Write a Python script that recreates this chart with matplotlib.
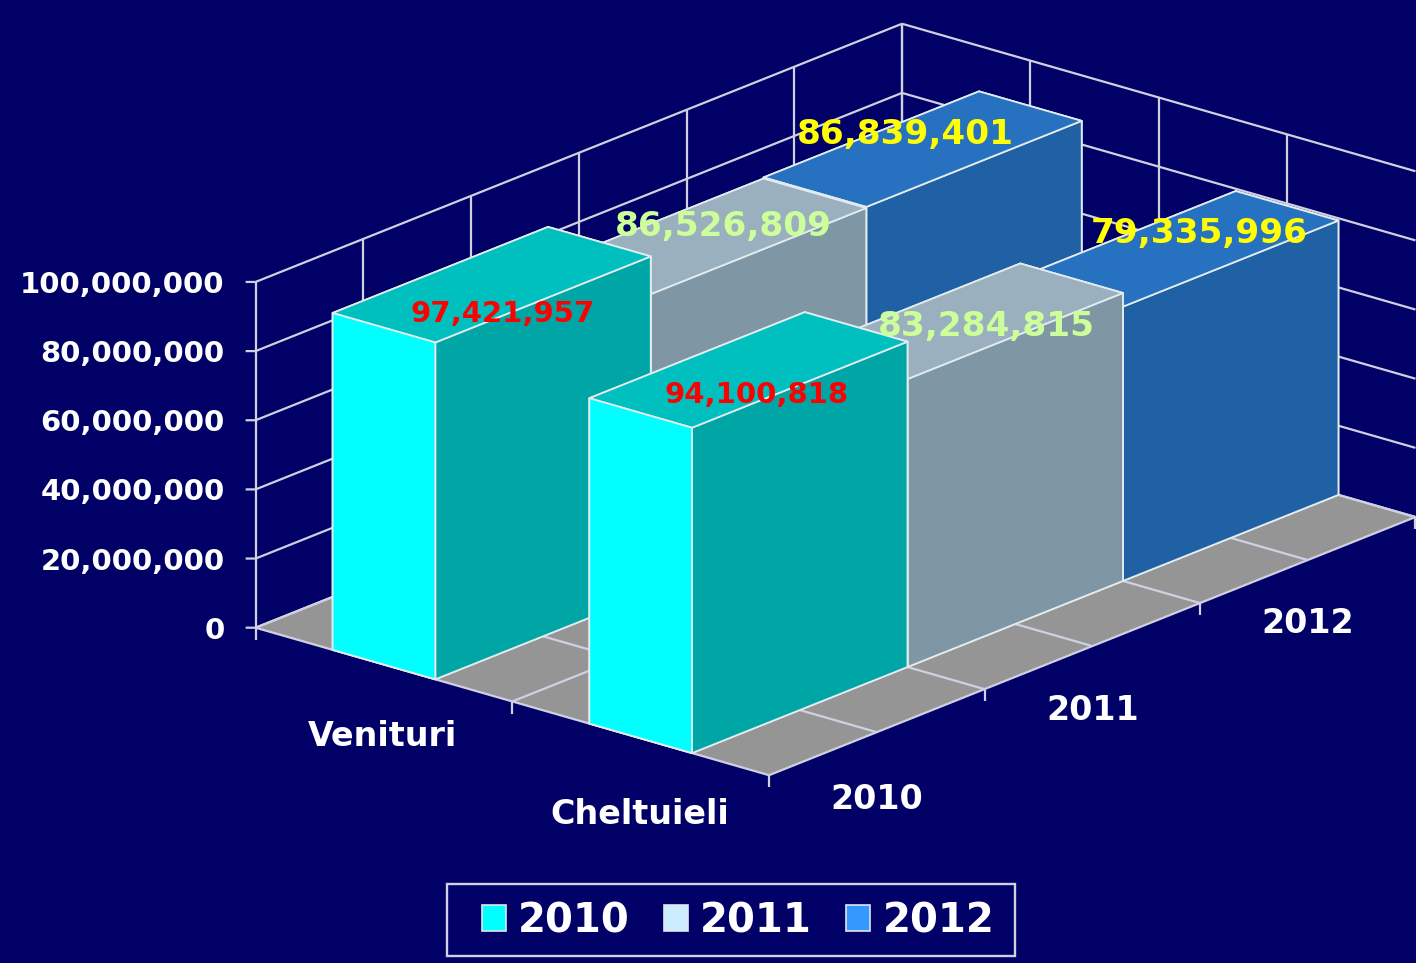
import matplotlib
matplotlib.use("Agg")
import matplotlib.pyplot as plt
from matplotlib.patches import Patch, Rectangle
from mpl_toolkits.mplot3d import proj3d
from mpl_toolkits.mplot3d.art3d import Poly3DCollection

categories = ["Venituri", "Cheltuieli"]
years = ["2010", "2011", "2012"]
venituri = [97421957, 86526809, 86839401]
cheltuieli = [94100818, 83284815, 79335996]
z_ticks = [0, 20000000, 40000000, 60000000, 80000000, 100000000]

BG = "#000066"
LINE = "#D0D0E2"
EDGE = "#E2ECEE"
# faces of a bar: bottom, top, front, back, left, right
face_colors = [
    ["#00A5A5", "#00BFBF", "#00FFFF", "#00A5A5", "#00A5A5", "#00A5A5"],
    ["#7F96A5", "#9BB0BF", "#C6E3F5", "#7F96A5", "#7F96A5", "#7F96A5"],
    ["#2060A5", "#2672C0", "#3399FF", "#2060A5", "#2060A5", "#2060A5"],
]
label_colors = ["#FF0000", "#CCFF99", "#FFFF00"]
label_sizes = [21, 24.7, 24.7]
legend_colors = ["#00FFFF", "#CCECFF", "#3399FF"]
# hand placed in the original, pixel offset from the centre of each bar top
label_offsets = [[(11, -29), (16, 10), (-17, 15)], [(8, -25), (22, -5), (20, 15)]]

plt.rcParams["font.family"] = ["DejaVu Sans"]
plt.rcParams["font.weight"] = "bold"

fig = plt.figure(figsize=(14.16, 9.63), dpi=100, facecolor=BG)
# square axes, sized so one box unit comes out at the pixel scale of the original
ax = fig.add_axes([207.5 / 1416, -64.5 / 963, 1223 / 1416, 1223 / 963], projection="3d", proj_type="ortho")
ax.set_facecolor("none")
ax.computed_zorder = False
ax.set_axis_off()
ax.view_init(elev=19.8, azim=-49.7)
ax.set_box_aspect((673.6, 1000, 367.7))

nx = len(categories)
ny = len(years)
zmax = z_ticks[-1]
ax.set_xlim(0, nx)
ax.set_ylim(0, ny)
ax.set_zlim(0, zmax)

# floor
floor = Poly3DCollection([[(0, 0, 0), (nx, 0, 0), (nx, ny, 0), (0, ny, 0)]], facecolor="#959595", edgecolor="none", zorder=1)
ax.add_collection3d(floor)


def grid(xs, ys, zs, lw=1.6):
    ax.plot(xs, ys, zs, color=LINE, lw=lw, zorder=2, solid_capstyle="butt")


# walls and floor grid, every half unit
for i in range(nx * 2 + 1):
    x = i / 2
    grid([x, x], [0, ny], [0, 0])
    if x < nx:
        grid([x, x], [ny, ny], [0, zmax])
for i in range(ny * 2 + 1):
    y = i / 2
    grid([0, nx], [y, y], [0, 0])
    grid([0, 0], [y, y], [0, zmax])
for z in z_ticks:
    grid([0, 0], [0, ny], [z, z])
    grid([0, nx], [ny, ny], [z, z])
    grid([-0.0226, 0], [-0.0194, 0], [z, z])  # short tick, flat on screen

# tick marks under the floor edges
for i in range(nx + 1):
    grid([i, i], [0, 0], [-3500000, 0])
for i in range(1, ny + 1):
    grid([nx, nx], [i, i], [-3500000, 0])

# bars, back to front
series = [venituri, cheltuieli]
order = 3
for i in range(nx):
    for j in range(ny - 1, -1, -1):
        ax.bar3d(i + 0.3, j, 0, 0.4, 1, series[i][j], color=face_colors[j], shade=False,
                 edgecolor=EDGE, linewidth=1.3, zorder=order)
        order += 1

ax.set_xlim(0, nx)
ax.set_ylim(0, ny)
ax.set_zlim(0, zmax)


def label(x, y, z, text, dx, dy, **kw):
    xp, yp, _ = proj3d.proj_transform(x, y, z, ax.get_proj())
    ax.annotate(text, (xp, yp), xytext=(dx, dy), textcoords="offset pixels", zorder=50,
                annotation_clip=False, **kw)


# value labels
for i in range(nx):
    for j in range(ny):
        dx, dy = label_offsets[i][j]
        label(i + 0.5, j + 0.5, series[i][j], format(series[i][j], ","), dx, dy, color=label_colors[j],
              fontsize=label_sizes[j], ha="center", va="center")

# axis labels
for z in z_ticks:
    label(0, 0, z, format(z, ","), -31, -3, color="white", fontsize=21, ha="right", va="center")
label(0.5, 0, 0, categories[0], -1, -72, color="white", fontsize=24, ha="center", va="center")
label(1.5, 0, 0, categories[1], -1, -76, color="white", fontsize=24, ha="center", va="center")
year_dy = [-67, -64, -63]
for j in range(ny):
    label(nx, j + 0.5, 0, years[j], 0, year_dy[j], color="white", fontsize=24, ha="center", va="center")

# legend frame is off centre around its entries in the original, so it is drawn apart
fig.add_artist(Rectangle((447 / 1416, 1 - 956 / 963), 568 / 1416, 72 / 963, transform=fig.transFigure,
                         facecolor=BG, edgecolor=LINE, linewidth=1.7))
handles = [Patch(facecolor=legend_colors[j], edgecolor="#E4E4EE", linewidth=1.2, label=years[j]) for j in range(ny)]
leg = fig.legend(handles=handles, ncol=3, loc="center", bbox_to_anchor=(738 / 1416, 1 - 921 / 963),
                 fontsize=29, frameon=False, labelcolor="white", handlelength=0.6, handleheight=0.6,
                 handletextpad=0.3, columnspacing=0.85, borderpad=0.55)

fig.savefig("out.png", dpi=100, facecolor=BG)
